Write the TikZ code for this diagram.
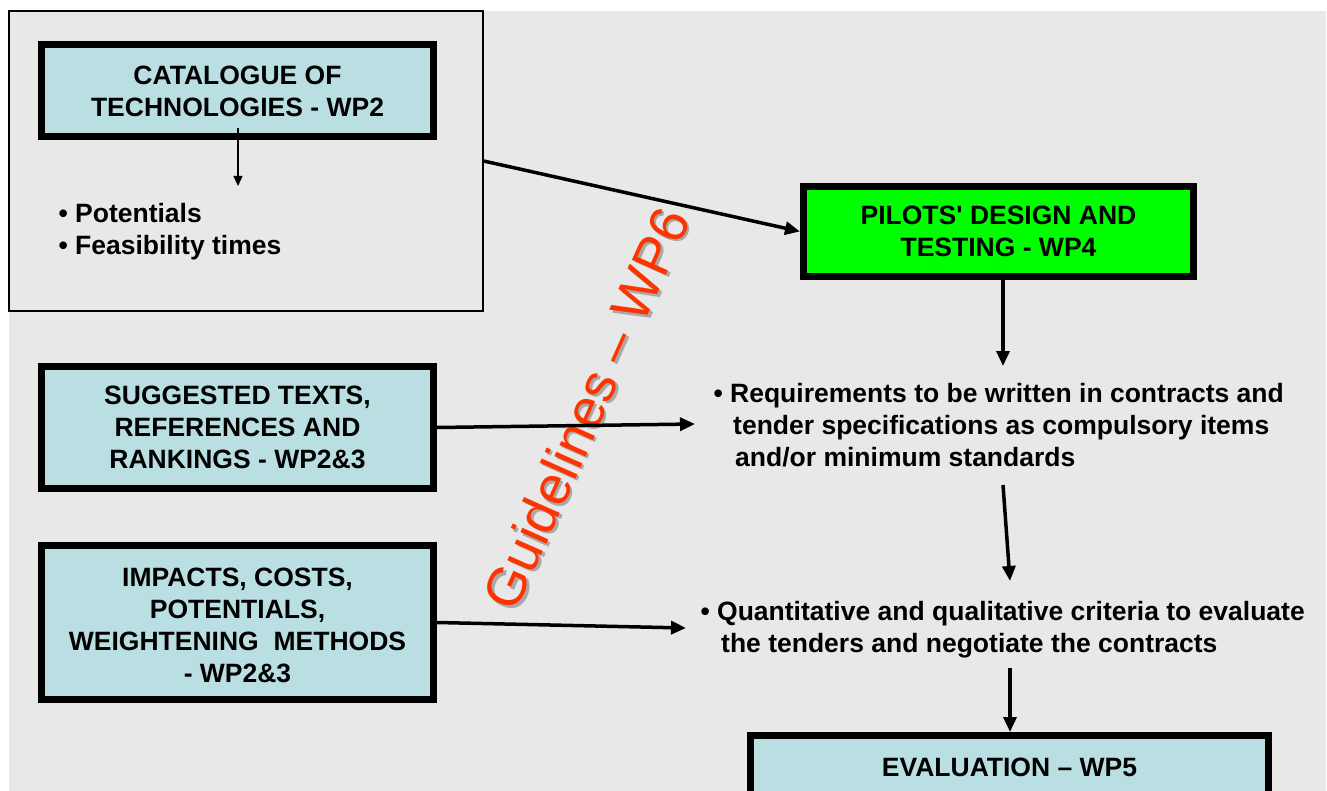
\documentclass[tikz,border=0pt]{standalone}
\usepackage{fontspec}
\newfontfamily\arialf{Liberation Sans}
\usetikzlibrary{arrows.meta}
\definecolor{bg}{HTML}{E8E8E8}
\definecolor{lblue}{HTML}{B9DFE3}
\definecolor{lgreen}{HTML}{00FF00}
\definecolor{guide}{HTML}{FF3300}
\definecolor{shad}{HTML}{A8A8A8}
\tikzset{
  thickbox/.style={draw=black, line width=7pt, fill=lblue, align=center, inner sep=0pt,
    font=\arialf\bfseries\fontsize{26.5}{32}\selectfont},
  bullettext/.style={align=left, inner sep=0pt, anchor=north west,
    font=\arialf\bfseries\fontsize{26.5}{32}\selectfont},
  guidetext/.style={rotate=66, font=\arialf\fontsize{54}{60}\selectfont},
  bigarrow/.style={line width=3.5pt, -{Triangle[length=15pt,width=13pt]}},
  thinarrow/.style={line width=1.3pt, -{Triangle[length=10pt,width=9pt]}},
}
\begin{document}
\begin{tikzpicture}[x=1pt,y=-1pt]
\useasboundingbox (0,0) rectangle (1327,791);
\clip (0,0) rectangle (1327,791);
\fill[bg] (9,11) rectangle (1326,791);
% outer thin box
\node[draw=black, line width=1.3pt, fill=bg, minimum width=474pt, minimum height=300pt, inner sep=0pt] (outer) at (246,161) {};
% boxes
\node[thickbox, minimum width=392pt, minimum height=92pt] (cat) at (237.5,90.5) {};
\node[thickbox, draw=none, fill=none] at (237.5,91.5) {CATALOGUE OF\\TECHNOLOGIES - WP2};
\node[thickbox, minimum width=392pt, minimum height=122pt] (sug) at (237.5,427.5) {SUGGESTED TEXTS,\\REFERENCES AND\\RANKINGS - WP2\&3};
\node[thickbox, minimum width=392pt, minimum height=154pt] (imp) at (237.5,622.5) {};
\node[thickbox, draw=none, fill=none] at (237.5,625.5) {IMPACTS, COSTS,\\POTENTIALS,\\WEIGHTENING\ \ METHODS\\- WP2\&3};
\node[thickbox, fill=lgreen, minimum width=390pt, minimum height=90pt] (pil) at (998.5,231.5) {PILOTS' DESIGN AND\\TESTING - WP4};
\node[thickbox, minimum width=518pt, minimum height=63pt] (eva) at (1009.5,767) {EVALUATION – WP5};
% bullet texts
\node[bullettext] (pot) at (75,203) {\llap{•\ }Potentials\\\llap{•\ }Feasibility times};
\node[bullettext] (req) at (730,383) {\llap{•\ }Requirements to be written in contracts and\\\hspace{3pt}tender specifications as compulsory items\\\hspace{5pt}and/or minimum standards};
\node[bullettext] (qua) at (717,601) {\llap{•\ }Quantitative and qualitative criteria to evaluate\\\hspace{4pt}the tenders and negotiate the contracts};
% guidelines
\node[guidetext, text=shad] at (588.5,411) {Guidelines – WP6};
\node[guidetext, text=guide] (gl) at (586,408.5) {Guidelines – WP6};
% coordinates
\coordinate (c1) at (238,128);
\coordinate (c1e) at (238,186);
\coordinate (r1) at (1003,366);
\coordinate (s1) at (695,424);
\coordinate (q0) at (1003,485);
\coordinate (q1) at (1010,581);
\coordinate (i1) at (686,628);
\coordinate (e0) at (1010,668);
% connectors
\draw[thinarrow] (c1) -- (c1e);
\draw[bigarrow] (outer.east) -- (pil.west);
\draw[bigarrow] (pil.south -| r1) -- (r1);
\draw[bigarrow] (sug.east) -- (s1);
\draw[bigarrow] (q0) -- (q1);
\draw[bigarrow] (imp.east) -- (i1);
\draw[bigarrow] (e0) -- (eva.north -| e0);
\end{tikzpicture}
\end{document}
